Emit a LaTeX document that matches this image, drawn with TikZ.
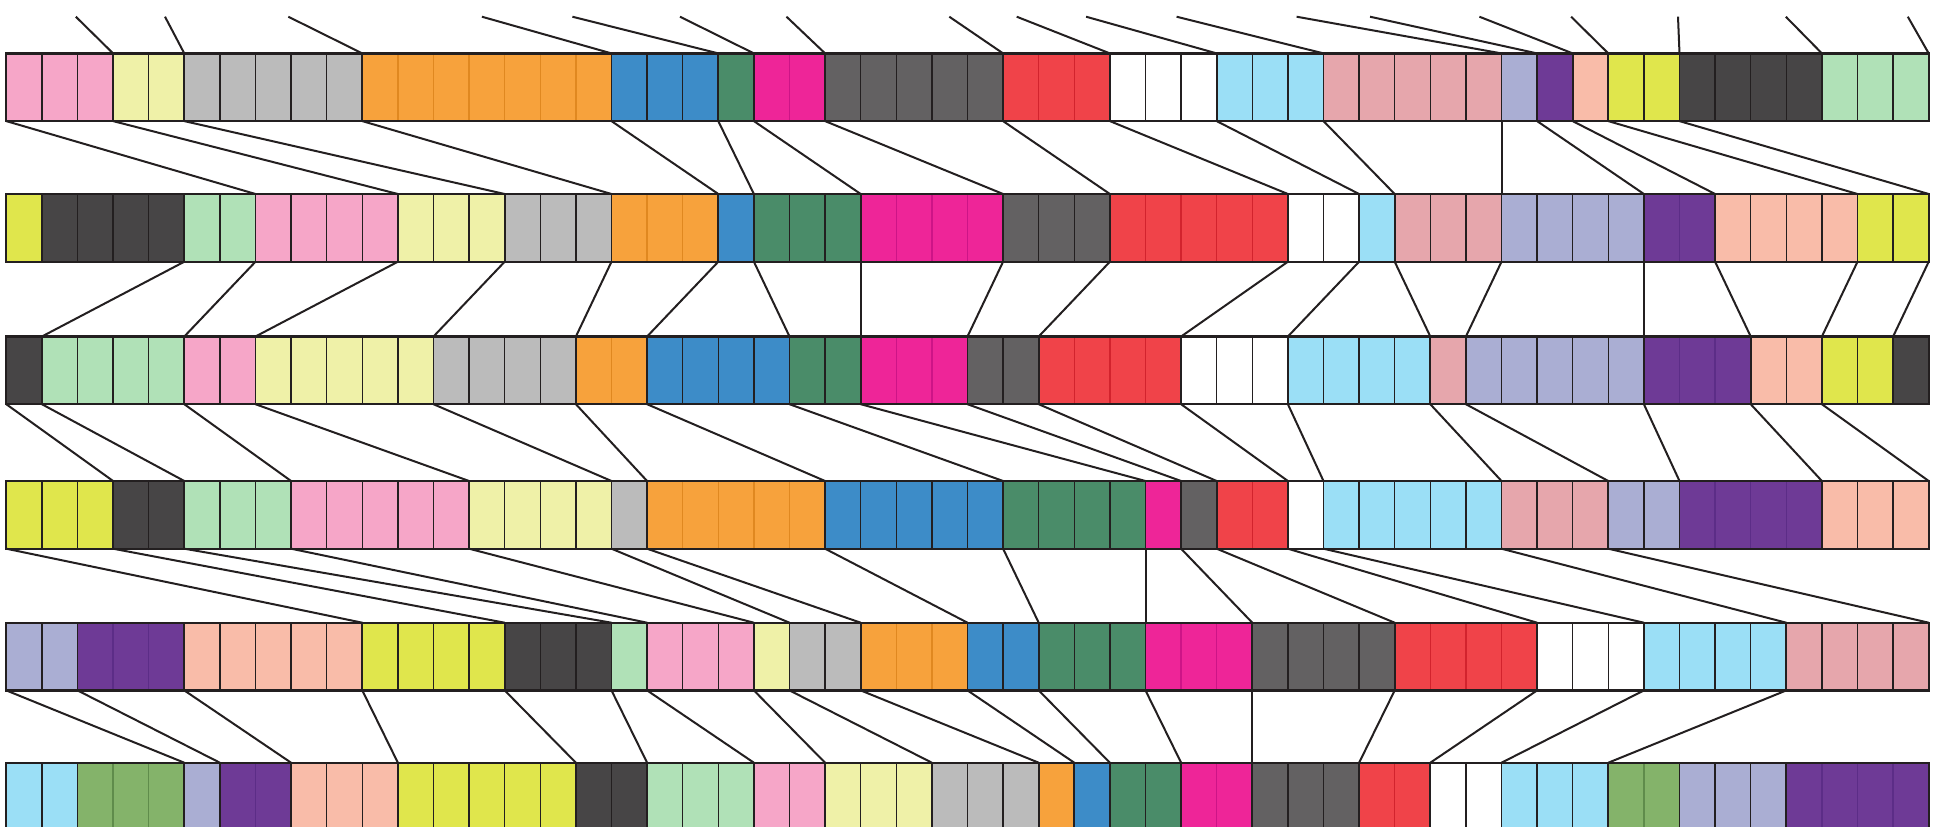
\documentclass[tikz,border=0pt]{standalone}
\definecolor{cK}{RGB}{35,31,32}
\definecolor{cP}{RGB}{246,166,200}
\definecolor{cLY}{RGB}{239,241,168}
\definecolor{cG}{RGB}{187,187,187}
\definecolor{cO}{RGB}{247,162,60}
\definecolor{cB}{RGB}{61,140,200}
\definecolor{cGR}{RGB}{74,140,105}
\definecolor{cMG}{RGB}{238,37,152}
\definecolor{cDG}{RGB}{99,97,98}
\definecolor{cR}{RGB}{240,67,73}
\definecolor{cW}{RGB}{255,255,255}
\definecolor{cLB}{RGB}{155,223,246}
\definecolor{cRO}{RGB}{230,166,172}
\definecolor{cLV}{RGB}{170,174,211}
\definecolor{cPU}{RGB}{110,58,150}
\definecolor{cPE}{RGB}{249,188,169}
\definecolor{cY}{RGB}{224,230,76}
\definecolor{cD}{RGB}{71,69,70}
\definecolor{cM}{RGB}{176,225,183}
\definecolor{cGO}{RGB}{132,179,106}
\colorlet{sP}{cK}\colorlet{sLY}{cK}\colorlet{sG}{cK}\colorlet{sB}{cK}
\colorlet{sGR}{cK}\colorlet{sDG}{cK}\colorlet{sW}{cK}\colorlet{sLB}{cK}
\colorlet{sRO}{cK}\colorlet{sLV}{cK}\colorlet{sPE}{cK}\colorlet{sY}{cK}
\colorlet{sD}{cK}\colorlet{sM}{cK}
\definecolor{sO}{RGB}{224,136,32}
\definecolor{sMG}{RGB}{205,20,135}
\definecolor{sR}{RGB}{210,35,45}
\definecolor{sPU}{RGB}{92,45,135}
\definecolor{sGO}{RGB}{95,140,75}
\tikzset{
  conn/.style={line width=1pt,draw=cK},
  sepline/.style={line width=0.75pt},
  grpline/.style={line width=0.9pt,draw=cK},
  rowline/.style={line width=1.1pt,draw=cK}
}
\def\xo{6.3}
\def\cw{35.6}
\def\rh{67.7}
\newcommand{\drawrow}[3]{%
  \foreach \gcol/\gst/\gen in {#3} {
    \fill[c\gcol] ({\xo+\cw*\gst},#2) rectangle ({\xo+\cw*\gen},#2+\rh);
    \pgfmathtruncatemacro\myS{\gst+1}
    \pgfmathtruncatemacro\myE{\gen-1}
    \ifnum\myS>\myE\relax\else
      \foreach \k in {\myS,...,\myE} {\draw[sepline,s\gcol] ({\xo+\cw*\k},#2) -- ++(0,\rh);}
    \fi
  }
  \foreach \gcol/\gst/\gen in {#3} {\draw[grpline] ({\xo+\cw*\gst},#2) -- ++(0,\rh);}
  \draw[rowline] (\xo,#2) rectangle ({\xo+\cw*54},#2+\rh);
  \foreach \i in {0,...,54} {
    \coordinate (r#1t\i) at ({\xo+\cw*\i},#2);
    \coordinate (r#1b\i) at ({\xo+\cw*\i},#2+\rh);
  }
}
\begin{document}
\begin{tikzpicture}[x=0.5pt,y=-0.5pt]
\useasboundingbox (0,0) rectangle (1950,826);
\clip (0,0) rectangle (1950,826);
\drawrow{1}{53.4}{P/0/3,LY/3/5,G/5/10,O/10/17,B/17/20,GR/20/21,MG/21/23,DG/23/28,R/28/31,W/31/34,LB/34/37,RO/37/42,LV/42/43,PU/43/44,PE/44/45,Y/45/47,D/47/51,M/51/54}
\drawrow{2}{194}{Y/0/1,D/1/5,M/5/7,P/7/11,LY/11/14,G/14/17,O/17/20,B/20/21,GR/21/24,MG/24/28,DG/28/31,R/31/36,W/36/38,LB/38/39,RO/39/42,LV/42/46,PU/46/48,PE/48/52,Y/52/54}
\drawrow{3}{336.5}{D/0/1,M/1/5,P/5/7,LY/7/12,G/12/16,O/16/18,B/18/22,GR/22/24,MG/24/27,DG/27/29,R/29/33,W/33/36,LB/36/40,RO/40/41,LV/41/46,PU/46/49,PE/49/51,Y/51/53,D/53/54}
\drawrow{4}{481}{Y/0/3,D/3/5,M/5/8,P/8/13,LY/13/17,G/17/18,O/18/23,B/23/28,GR/28/32,MG/32/33,DG/33/34,R/34/36,W/36/37,LB/37/42,RO/42/45,LV/45/47,PU/47/51,PE/51/54}
\drawrow{5}{622.7}{LV/0/2,PU/2/5,PE/5/10,Y/10/14,D/14/17,M/17/18,P/18/21,LY/21/22,G/22/24,O/24/27,B/27/29,GR/29/32,MG/32/35,DG/35/39,R/39/43,W/43/46,LB/46/50,RO/50/54}
\drawrow{6}{762.7}{LB/0/2,GO/2/5,LV/5/6,PU/6/8,PE/8/11,Y/11/16,D/16/18,M/18/21,P/21/23,LY/23/26,G/26/29,O/29/30,B/30/31,GR/31/33,MG/33/35,DG/35/38,R/38/40,W/40/42,LB/42/45,GO/45/47,LV/47/50,PU/50/54}
% lines entering from above
\foreach \tx/\b in {75.8/3,165/5,288.3/10,481.9/17,572.4/20,680/21,786.5/23,949.3/28,1016.7/31,1086.1/34,1176.6/37,1296.6/42,1370/43,1479.4/44,1571.1/45,1678/47,1785.8/51,1907.8/54}
  {\coordinate (top\b) at (\tx,16.7); \draw[conn] (top\b) -- (r1t\b);}
% row 1 -> row 2
\foreach \a/\b in {0/7,3/11,5/14,10/17,17/20,20/21,21/24,23/28,28/31,31/36,34/38,37/39,42/42,43/46,44/48,45/52,47/54}
  {\draw[conn] (r1b\a) -- (r2t\b);}
% row 2 -> row 3
\foreach \a/\b in {5/1,7/5,11/7,14/12,17/16,20/18,21/22,24/24,28/27,31/29,36/33,38/36,39/40,42/41,46/46,48/49,52/51,54/53}
  {\draw[conn] (r2b\a) -- (r3t\b);}
% row 3 -> row 4
\foreach \a/\b in {0/3,1/5,5/8,7/13,12/17,16/18,18/23,22/28,24/32,27/33,29/34,33/36,36/37,40/42,41/45,46/47,49/51,51/54}
  {\draw[conn] (r3b\a) -- (r4t\b);}
% row 4 -> row 5
\foreach \a/\b in {0/10,3/14,5/17,8/18,13/21,17/22,18/24,23/27,28/29,32/32,33/35,34/39,36/43,37/46,42/50,45/54}
  {\draw[conn] (r4b\a) -- (r5t\b);}
% row 5 -> row 6
\foreach \a/\b in {0/5,2/6,5/8,10/11,14/16,17/18,18/21,21/23,22/26,24/29,27/30,29/31,32/33,35/35,39/38,43/40,46/42,50/45}
  {\draw[conn] (r5b\a) -- (r6t\b);}
\end{tikzpicture}
\end{document}
